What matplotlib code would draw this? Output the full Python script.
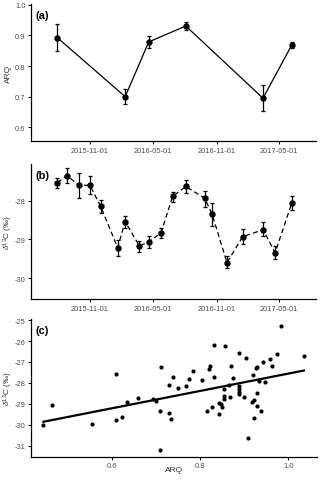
import numpy as np
import matplotlib
matplotlib.use("Agg")
import matplotlib.pyplot as plt

plt.rcParams['font.family'] = ['Liberation Sans', 'DejaVu Sans']
plt.rcParams['mathtext.fontset'] = 'custom'
plt.rcParams['mathtext.rm'] = 'Liberation Sans'
plt.rcParams['mathtext.it'] = 'Liberation Sans:italic'

# ---- Panel (a): ARQ time series ----
arq_dates = ['2015-07-30', '2016-02-11', '2016-04-19', '2016-08-04', '2017-03-15', '2017-06-06']
arq_mean = [0.893, 0.700, 0.879, 0.931, 0.695, 0.869]
arq_lo = [0.849, 0.676, 0.860, 0.917, 0.652, 0.858]
arq_hi = [0.938, 0.726, 0.897, 0.944, 0.738, 0.880]

# ---- Panel (b): d13C time series ----
d13_dates = ['2015-07-30', '2015-08-27', '2015-09-30', '2015-11-01', '2015-12-02',
             '2016-01-20', '2016-02-11', '2016-03-23', '2016-04-19', '2016-05-24',
             '2016-06-27', '2016-08-04', '2016-09-28', '2016-10-19', '2016-12-01',
             '2017-01-15', '2017-03-15', '2017-04-19', '2017-06-06']
d13_mean = [-27.53, -27.35, -27.60, -27.60, -28.14, -29.21, -28.54, -29.17, -29.06, -28.84,
            -27.89, -27.63, -27.94, -28.35, -29.60, -28.93, -28.75, -29.34, -28.06]
d13_lo = [-27.67, -27.54, -27.93, -27.83, -28.32, -29.42, -28.71, -29.32, -29.23, -28.97,
          -28.02, -27.80, -28.15, -28.65, -29.75, -29.12, -28.92, -29.51, -28.24]
d13_hi = [-27.42, -27.16, -27.27, -27.37, -27.97, -29.01, -28.39, -29.03, -28.90, -28.71,
          -27.77, -27.47, -27.74, -28.07, -29.44, -28.74, -28.56, -29.18, -27.89]

# ---- Panel (c): scatter ARQ vs d13C ----
sc_arq = [0.445, 0.465, 0.556, 0.609, 0.609, 0.624, 0.635, 0.660, 0.694, 0.699,
          0.712, 0.709, 0.709, 0.729, 0.729, 0.734, 0.739, 0.749, 0.768, 0.774,
          0.783, 0.804, 0.819, 0.822, 0.831, 0.832, 0.856, 0.869, 0.875, 0.866,
          0.853, 0.853, 0.853, 0.868, 0.843, 0.848, 0.850, 0.828, 0.816, 0.843,
          0.888, 0.888, 0.888, 0.888, 0.888, 0.899, 0.904, 0.920, 0.926, 0.929,
          0.933, 0.929, 0.923, 0.917, 0.928, 0.937, 0.923, 0.908, 0.943, 0.948,
          0.958, 0.963, 0.973, 0.983, 1.035]
sc_d13 = [-30.02, -29.03, -29.98, -27.58, -29.78, -29.62, -28.93, -28.71, -28.76, -28.85,
          -27.26, -29.36, -31.21, -28.11, -29.43, -29.73, -27.74, -28.22, -28.15, -27.82,
          -27.45, -27.88, -27.34, -27.21, -27.74, -26.21, -26.23, -27.21, -27.77, -28.09,
          -28.30, -28.60, -28.79, -28.69, -28.98, -29.01, -29.17, -29.14, -29.36, -29.49,
          -26.59, -28.15, -28.30, -28.42, -28.54, -28.66, -26.83, -27.64, -27.29, -27.23,
          -27.90, -28.49, -28.82, -28.89, -29.09, -29.32, -29.68, -30.65, -26.99, -27.96,
          -26.88, -27.21, -26.64, -25.30, -26.72]

date_ticks = ['2015-11-01', '2016-05-01', '2016-11-01', '2017-05-01']
date_lim = ['2015-05-15', '2017-08-15']

W, H = 320, 481
fig = plt.figure(figsize=(W / 100, H / 100), dpi=100)

def frac(left, top, right, bottom):
    return [left / W, 1 - bottom / H, (right - left) / W, (bottom - top) / H]

ax_a = fig.add_axes(frac(31, 5, 316, 142))
ax_b = fig.add_axes(frac(31, 165, 316, 300))
ax_c = fig.add_axes(frac(31, 320, 316.7, 457.7))

tick_col = '#4d4d4d'
title_col = '#333333'
for ax in (ax_a, ax_b, ax_c):
    ax.spines['top'].set_visible(False)
    ax.spines['right'].set_visible(False)
    for s in ('left', 'bottom'):
        ax.spines[s].set_linewidth(0.9)
    ax.tick_params(axis='both', length=2.5, width=0.7, labelsize=5.4, labelcolor=tick_col, pad=1.5)

def to_dt(lst):
    return np.array(lst, dtype='datetime64[D]')

# Panel a
da = to_dt(arq_dates)
m = np.array(arq_mean)
ax_a.errorbar(da, m, yerr=[m - np.array(arq_lo), np.array(arq_hi) - m], fmt='o-', color='black',
              ms=3.6, lw=0.9, elinewidth=0.9, capsize=1.6, capthick=0.9)
ax_a.set_ylim(0.555, 1.003)
ax_a.set_yticks([0.6, 0.7, 0.8, 0.9, 1.0])
ax_a.set_ylabel('ARQ', fontsize=6, color=title_col, va='center')
ax_a.yaxis.set_label_coords(-23 / 285, 0.5)
ax_a.text(0.015, 0.955, '(a)', transform=ax_a.transAxes, fontsize=8, fontweight='bold', va='top')

# Panel b
db = to_dt(d13_dates)
mb = np.array(d13_mean)
ax_b.errorbar(db, mb, yerr=[mb - np.array(d13_lo), np.array(d13_hi) - mb], fmt='o', color='black',
              ms=3.6, elinewidth=0.9, capsize=1.6, capthick=0.9)
ax_b.plot(db, mb, color='black', lw=0.9, ls=(0, (4, 2.5)))
ax_b.set_ylim(-30.54, -27.05)
ax_b.set_yticks([-30, -29, -28])
ax_b.set_yticklabels(['-30', '-29', '-28'])
ax_b.set_ylabel(r'$\delta^{13}$C (‰)', fontsize=5.8, color=title_col, va='center')
ax_b.yaxis.set_label_coords(-23 / 285, 0.5)
ax_b.text(0.015, 0.955, '(b)', transform=ax_b.transAxes, fontsize=8, fontweight='bold', va='top')

for ax in (ax_a, ax_b):
    ax.set_xlim(to_dt(date_lim))
    ax.set_xticks(to_dt(date_ticks))
    ax.set_xticklabels(date_ticks)

# Panel c
xs = np.array(sc_arq)
ys = np.array(sc_d13)
ax_c.scatter(xs, ys, s=9, color='black', zorder=3, linewidths=0)
k, b0 = np.polyfit(xs, ys, 1)
xl = np.array([xs.min(), xs.max()])
ax_c.plot(xl, k * xl + b0, color='black', lw=1.6)
ax_c.set_xlim(0.417, 1.064)
ax_c.set_ylim(-31.52, -24.95)
ax_c.set_xticks([0.6, 0.8, 1.0])
ax_c.set_yticks([-31, -30, -29, -28, -27, -26, -25])
ax_c.set_yticklabels(['-31', '-30', '-29', '-28', '-27', '-26', '-25'])
ax_c.set_xlabel('ARQ', fontsize=6, color=title_col, va='center')
ax_c.xaxis.set_label_coords(0.5, -12.5 / 137.7)
ax_c.set_ylabel(r'$\delta^{13}$C (‰)', fontsize=5.8, color=title_col, va='center')
ax_c.yaxis.set_label_coords(-23 / 285.7, 0.5)
ax_c.text(0.015, 0.955, '(c)', transform=ax_c.transAxes, fontsize=8, fontweight='bold', va='top')

fig.savefig('out.png', dpi=100)
